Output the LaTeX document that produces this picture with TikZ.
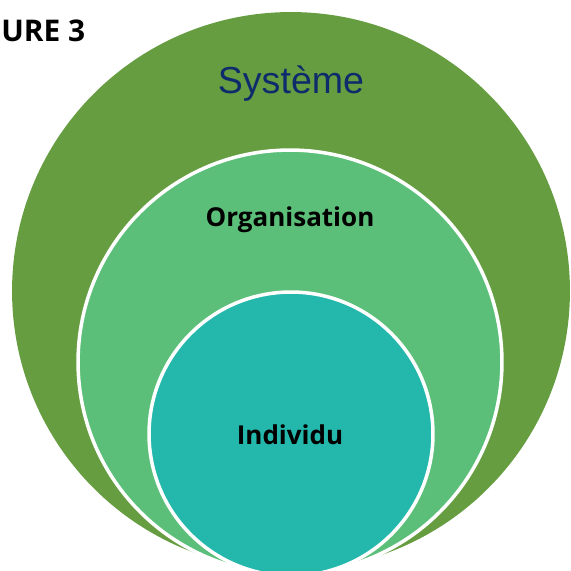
\documentclass[tikz,border=0pt]{standalone}
\usepackage{fontspec}
\setmainfont{Open Sans}
\newfontfamily\arialfont{Liberation Sans}
\definecolor{sistema}{HTML}{669D41}
\definecolor{organ}{HTML}{5BBF79}
\definecolor{indiv}{HTML}{24B7AC}
\definecolor{azul}{HTML}{0E2C6B}
\tikzset{
  anel/.style={draw=white, line width=2pt},
  rotulo/.style={font=\bfseries\fontsize{14.8}{17}\selectfont, text=black}
}
\begin{document}
\begin{tikzpicture}[x=0.02cm,y=-0.02cm]
    \useasboundingbox (0,0) rectangle (571,571);
    \clip (0,0) rectangle (571,571);

    \fill[sistema] (291,291) circle (5.58cm);
    \filldraw[fill=organ, anel] (290,362) circle (4.24cm);
    \filldraw[fill=indiv, anel] (291,434) circle (2.84cm);

    \node[anchor=west, inner sep=0pt, font=\bfseries\fontsize{17}{20}\selectfont] (fig) at (1,31) {URE 3};
    \node[font=\arialfont\fontsize{21.4}{25}\selectfont, text=azul] (sis) at (291,84) {Système};
    \node[rotulo] (org) at (290,220) {Organisation};
    \node[rotulo] (ind) at (290,435) {Individu};
\end{tikzpicture}
\end{document}
